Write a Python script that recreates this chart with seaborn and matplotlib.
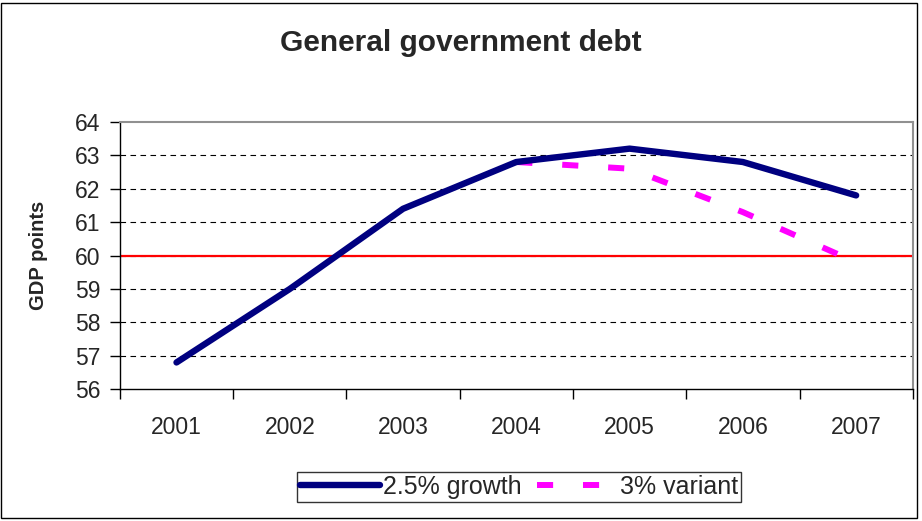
import matplotlib
matplotlib.use("Agg")
import matplotlib.pyplot as plt
from matplotlib.patches import Rectangle
import numpy as np
import pandas as pd
import seaborn as sns

years = ["2001", "2002", "2003", "2004", "2005", "2006", "2007"]
growth_25 = [56.8, 59.0, 61.4, 62.8, 63.2, 62.8, 61.8]
variant_years = ["2004", "2005", "2006", "2007"]
variant_3 = [62.8, 62.6, 61.3, 59.8]
threshold = 60
y_ticks = [56, 57, 58, 59, 60, 61, 62, 63, 64]

sns.set_theme(style="white")
plt.rcParams["font.family"] = ["Liberation Sans", "DejaVu Sans"]

pos = {y: i for i, y in enumerate(years)}
df = pd.concat([
    pd.DataFrame({"x": [pos[y] for y in years], "val": growth_25, "serie": "2.5% growth"}),
    pd.DataFrame({"x": [pos[y] for y in variant_years], "val": variant_3, "serie": "3% variant"}),
])

fig = plt.figure(figsize=(9.22, 5.21), dpi=100)
ax = fig.add_axes([0.130, 0.253, 0.860, 0.513])

# grille pointillée + ligne rouge des 60 %
for v in y_ticks[1:-1]:
    ax.axhline(v, color="black", lw=0.8, ls=(0, (5, 4)), zorder=1)
ax.axhline(threshold, color="#ff0000", lw=1.6, zorder=2)

sns.lineplot(data=df[df["serie"] == "2.5% growth"], x="x", y="val", ax=ax,
             color="#000080", lw=4.6, solid_capstyle="round", label="2.5% growth",
             zorder=4)
sns.lineplot(data=df[df["serie"] == "3% variant"], x="x", y="val", ax=ax,
             color="#ff00ff", lw=4.3, dashes=False, label="3% variant", zorder=3)
ax.lines[-1].set_dashes([2.7, 5.0])
ax.lines[-1].set_dash_capstyle("butt")

ax.set_xlim(-0.5, len(years) - 0.5)
ax.set_ylim(56, 64)
ax.set_yticks(y_ticks)
ax.set_xticks(np.arange(-0.5, len(years), 1.0))
ax.set_xticklabels([])
ax.set_xticks(range(len(years)), minor=True)
ax.set_xticklabels(years, minor=True, fontsize=16.5)
ax.tick_params(axis="x", which="major", direction="out", length=7, width=1, color="black", bottom=True)
ax.tick_params(axis="x", which="minor", length=0, pad=19)
ax.tick_params(axis="y", direction="out", length=7, width=1, color="black", left=True,
               labelsize=16.5, pad=7)
ax.set_xlabel("")
ax.set_ylabel("GDP points", fontsize=14.5, fontweight="bold")
ax.yaxis.set_label_coords(-0.091, 0.5)

for s in ["left", "bottom"]:
    ax.spines[s].set_color("black")
    ax.spines[s].set_linewidth(1)
for s in ["top", "right"]:
    ax.spines[s].set_color("#909090")
    ax.spines[s].set_linewidth(1.5)

fig.text(0.5, 0.918, "General government debt", ha="center", va="center",
         fontsize=21.5, fontweight="bold")

leg = ax.legend(loc="center", ncol=2, fontsize=18, frameon=True,
                fancybox=False, handlelength=3.2, handletextpad=0.12,
                columnspacing=0.6, borderpad=0.12, borderaxespad=0)
leg.get_frame().set_edgecolor("black")
leg.get_frame().set_linewidth(1)
leg.set_bbox_to_anchor((0.563, 0.065), transform=fig.transFigure)

fig.patches.append(Rectangle((0.001, 0.005), 0.994, 0.99, transform=fig.transFigure,
                             fill=False, edgecolor="black", lw=1))

fig.savefig("out.png", dpi=100)
